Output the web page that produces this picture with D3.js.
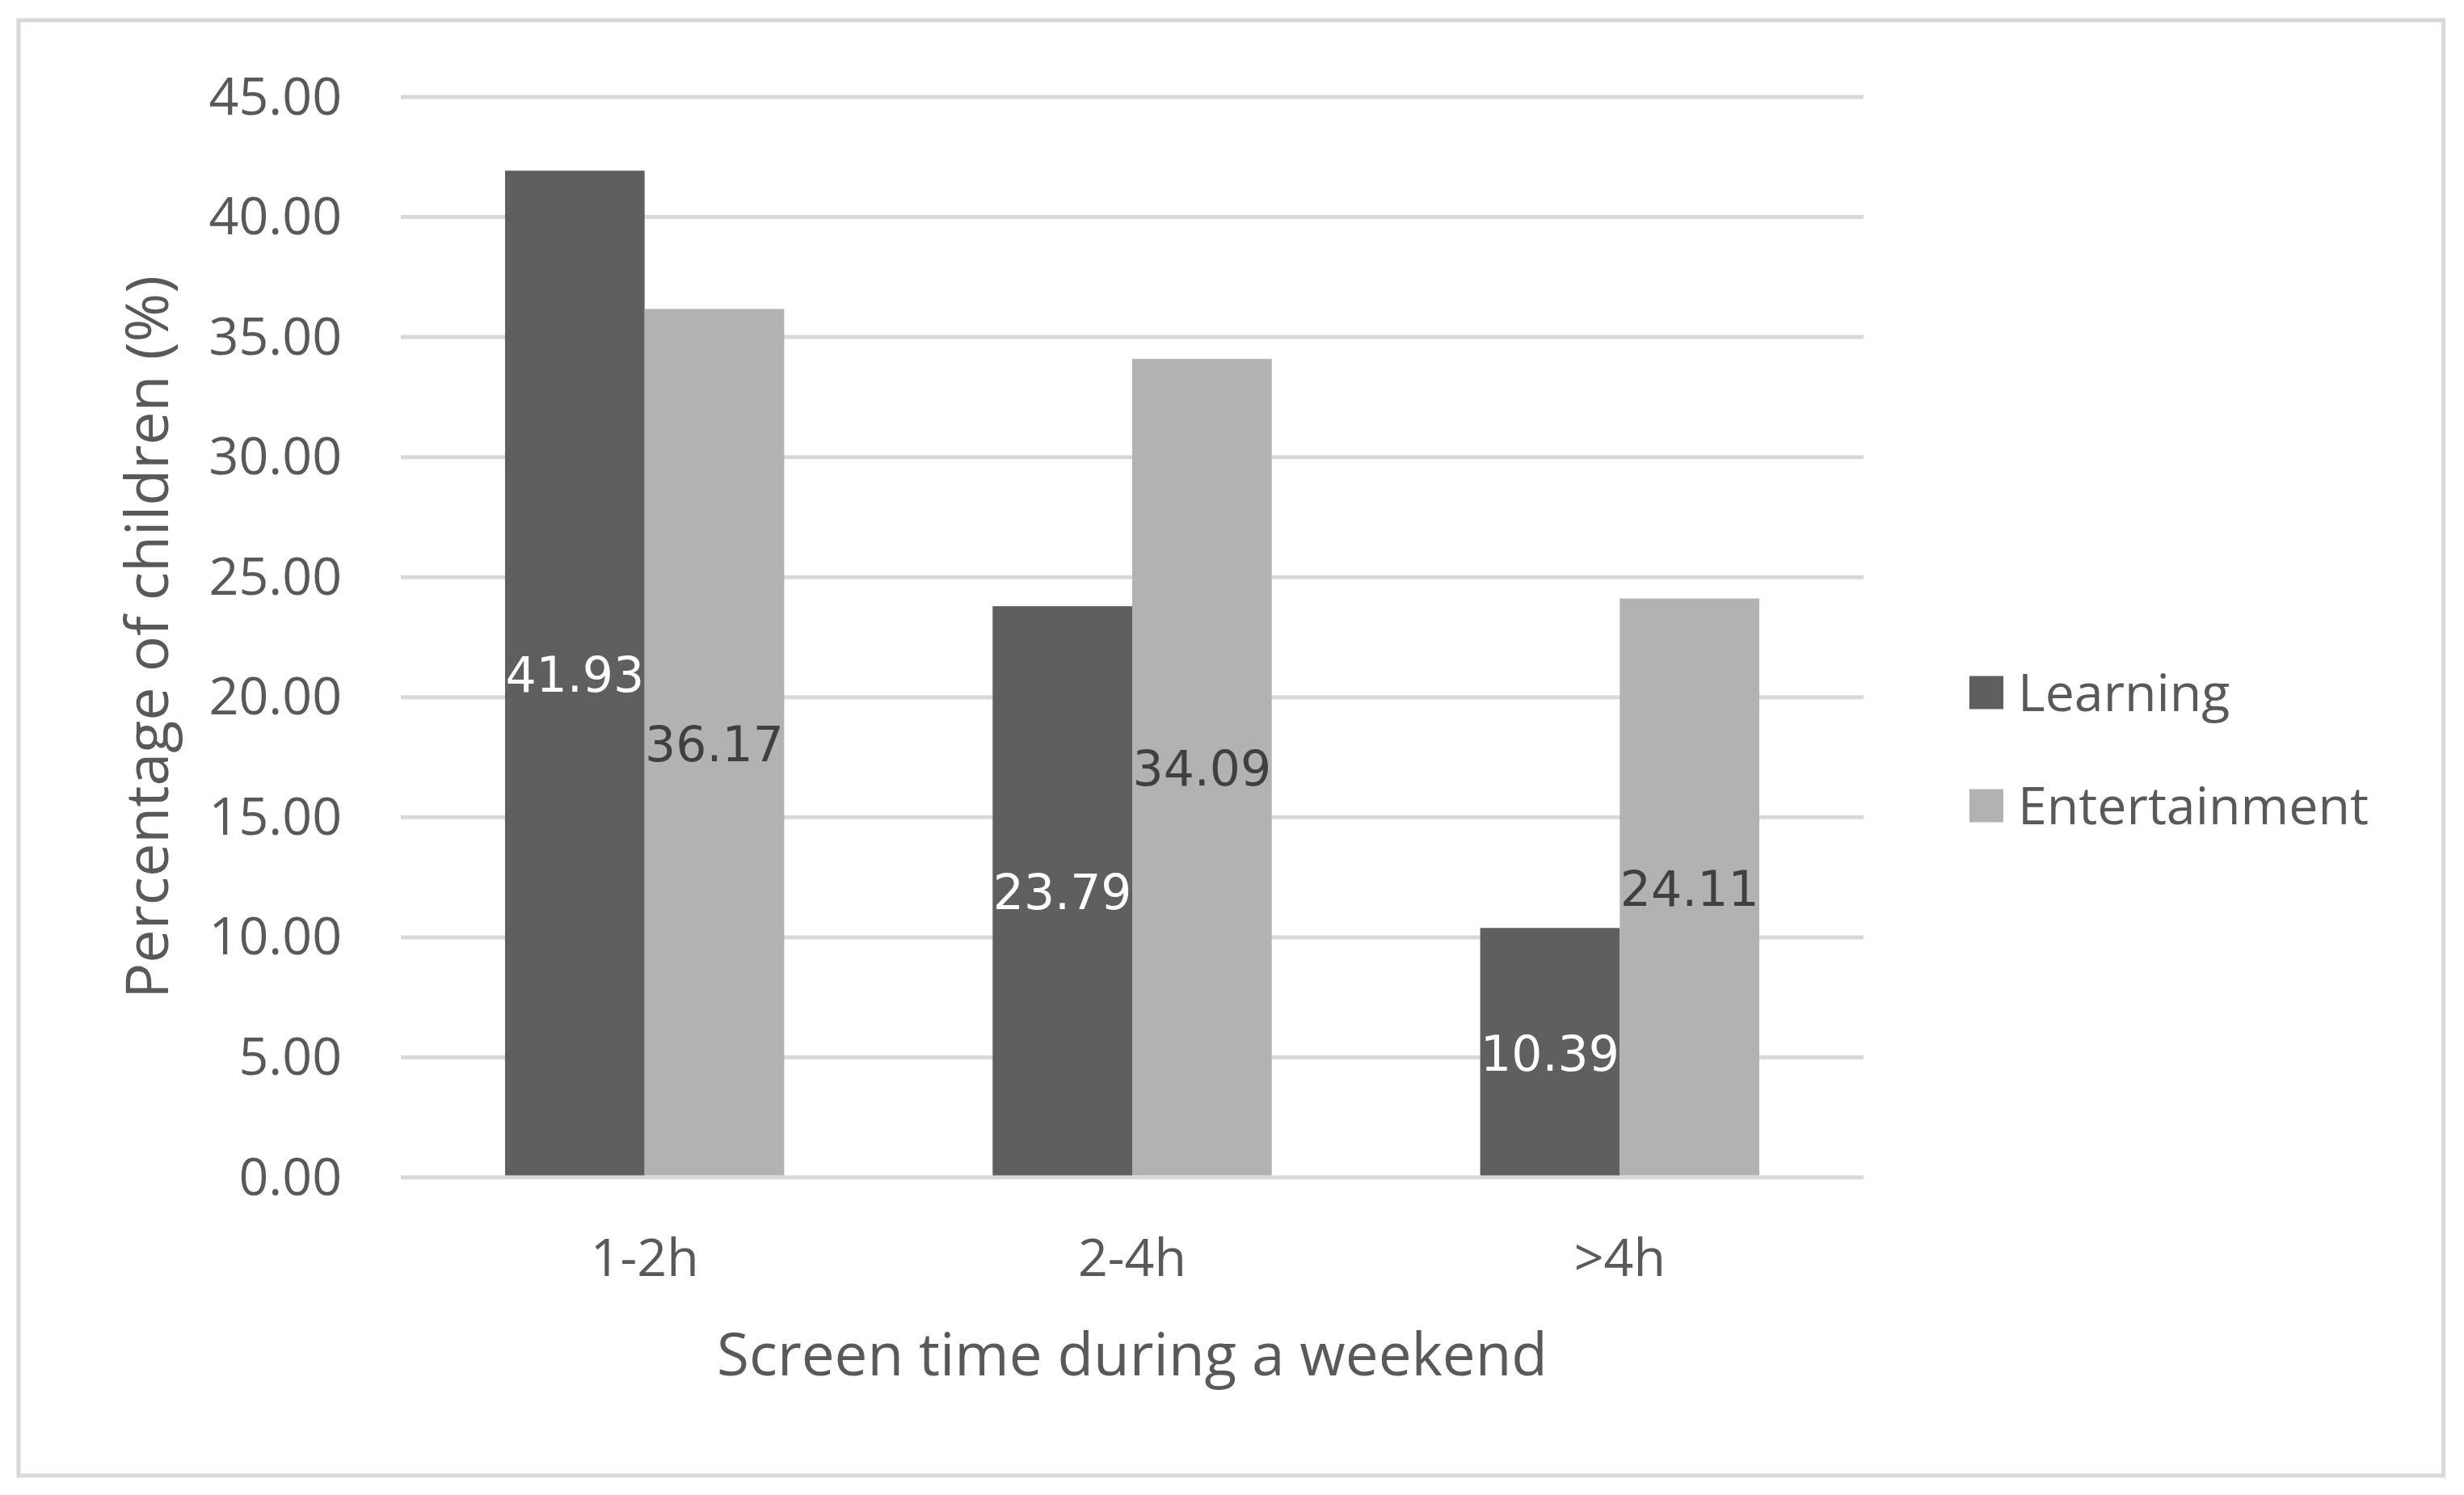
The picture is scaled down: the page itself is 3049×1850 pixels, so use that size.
<!DOCTYPE html>
<html>
<head>
<meta charset="utf-8">
<script src="https://cdn.jsdelivr.net/npm/d3@7"></script>
<style>
  html, body { margin: 0; padding: 0; background: #ffffff; }
  svg { display: block; }
</style>
</head>
<body>
<script>
// ---- data ----
const categories = ["1-2h", "2-4h", ">4h"];
const seriesNames = ["Learning", "Entertainment"];
const learning = [41.93, 23.79, 10.39];
const entertainment = [36.17, 34.09, 24.11];
const yTickValues = [0, 5, 10, 15, 20, 25, 30, 35, 40, 45];
const xTitle = "Screen time during a weekend";
const yTitle = "Percentage of children (%)";

// ---- layout ----
const W = 3049, H = 1850;
const plot = { left: 496, right: 2306, top: 120, bottom: 1457 };
const FONT = "'Open Sans', 'Noto Sans', sans-serif";
const LABEL_FONT = "'DejaVu Sans', Verdana, sans-serif";
const textColor = "#595959";
const colors = { Learning: "#5f5f5f", Entertainment: "#b2b2b2" };
const labelColors = { Learning: "#ffffff", Entertainment: "#404040" };

const svg = d3.select("body").append("svg")
  .attr("width", W).attr("height", H);

svg.append("rect").attr("width", W).attr("height", H).attr("fill", "#fff");

// size-fitting helper
function fitSize(str, family, target) {
  const t = svg.append("text").attr("font-family", family).attr("font-size", 100).text(str);
  const w = t.node().getComputedTextLength();
  t.remove();
  return 100 * target / w;
}
const tickFs = fitSize("Entertainment", FONT, 434);
const xTitleFs = fitSize(xTitle, FONT, 1028);
const yTitleFs = fitSize(yTitle, FONT, 895);

// outer border
svg.append("rect")
  .attr("x", 23).attr("y", 25).attr("width", 3000.5).attr("height", 1801)
  .attr("fill", "none").attr("stroke", "#d9d9d9").attr("stroke-width", 5);

// scales
const x = d3.scaleBand().domain(categories)
  .range([plot.left, plot.right]).paddingInner(0.4275).paddingOuter(0.21375);
const xs = d3.scaleBand().domain(seriesNames).range([0, x.bandwidth()]);
const y = d3.scaleLinear().domain([0, 45]).range([plot.bottom, plot.top]);

// gridlines
svg.append("g").selectAll("line").data(yTickValues).join("line")
  .attr("x1", plot.left).attr("x2", plot.right)
  .attr("y1", d => y(d)).attr("y2", d => y(d))
  .attr("stroke", "#d9d9d9").attr("stroke-width", 5);

// y axis labels via d3.axisLeft
const yAxis = d3.axisLeft(y).tickValues(yTickValues).tickFormat(d3.format(".2f")).tickSize(0).tickPadding(0);
const yg = svg.append("g").attr("transform", `translate(423,0)`).call(yAxis);
yg.select(".domain").remove();
yg.selectAll("text")
  .attr("font-family", FONT).attr("font-size", tickFs).attr("fill", textColor)
  .attr("x", 0).attr("dy", null)
  .attr("y", 0.357 * tickFs - 2)
  .attr("text-anchor", "end");

// x axis labels via d3.axisBottom
const xAxis = d3.axisBottom(x).tickSize(0).tickPadding(0);
const xg = svg.append("g").attr("transform", `translate(0,1579)`).call(xAxis);
xg.select(".domain").remove();
xg.selectAll("text")
  .attr("font-family", FONT).attr("font-size", tickFs).attr("fill", textColor)
  .attr("y", 0).attr("dy", null);

// bars
const rows = categories.map((c, i) => ({
  cat: c,
  vals: [
    { s: "Learning", v: learning[i] },
    { s: "Entertainment", v: entertainment[i] }
  ]
}));

const groups = svg.append("g").selectAll("g").data(rows).join("g")
  .attr("transform", d => `translate(${x(d.cat)},0)`);

groups.selectAll("rect").data(d => d.vals).join("rect")
  .attr("x", d => xs(d.s))
  .attr("width", xs.bandwidth())
  .attr("y", d => y(d.v))
  .attr("height", d => y(0) - 2.5 - y(d.v))
  .attr("fill", d => colors[d.s]);

const labelFs = 60;
groups.selectAll("text").data(d => d.vals).join("text")
  .attr("x", d => xs(d.s) + xs.bandwidth() / 2)
  .attr("y", d => (y(d.v) + y(0)) / 2 + 0.3645 * labelFs)
  .attr("text-anchor", "middle")
  .attr("font-family", LABEL_FONT).attr("font-size", labelFs)
  .attr("fill", d => labelColors[d.s])
  .text(d => d3.format(".2f")(d.v));

// axis titles
svg.append("text")
  .attr("x", (plot.left + plot.right) / 2).attr("y", 1702)
  .attr("text-anchor", "middle")
  .attr("font-family", FONT).attr("font-size", xTitleFs).attr("fill", textColor)
  .text(xTitle);

svg.append("text")
  .attr("transform", `translate(208,${(plot.top + plot.bottom) / 2}) rotate(-90)`)
  .attr("text-anchor", "middle")
  .attr("font-family", FONT).attr("font-size", yTitleFs).attr("fill", textColor)
  .text(yTitle);

// legend
const legendY = [857, 997];
const leg = svg.append("g").selectAll("g").data(seriesNames).join("g")
  .attr("transform", (d, i) => `translate(2437,${legendY[i]})`);
leg.append("rect")
  .attr("x", 0).attr("y", -20.5).attr("width", 42).attr("height", 41)
  .attr("fill", d => colors[d]);
leg.append("text")
  .attr("x", 60).attr("y", 0.357 * tickFs)
  .attr("font-family", FONT).attr("font-size", tickFs).attr("fill", textColor)
  .text(d => d);
</script>
</body>
</html>
